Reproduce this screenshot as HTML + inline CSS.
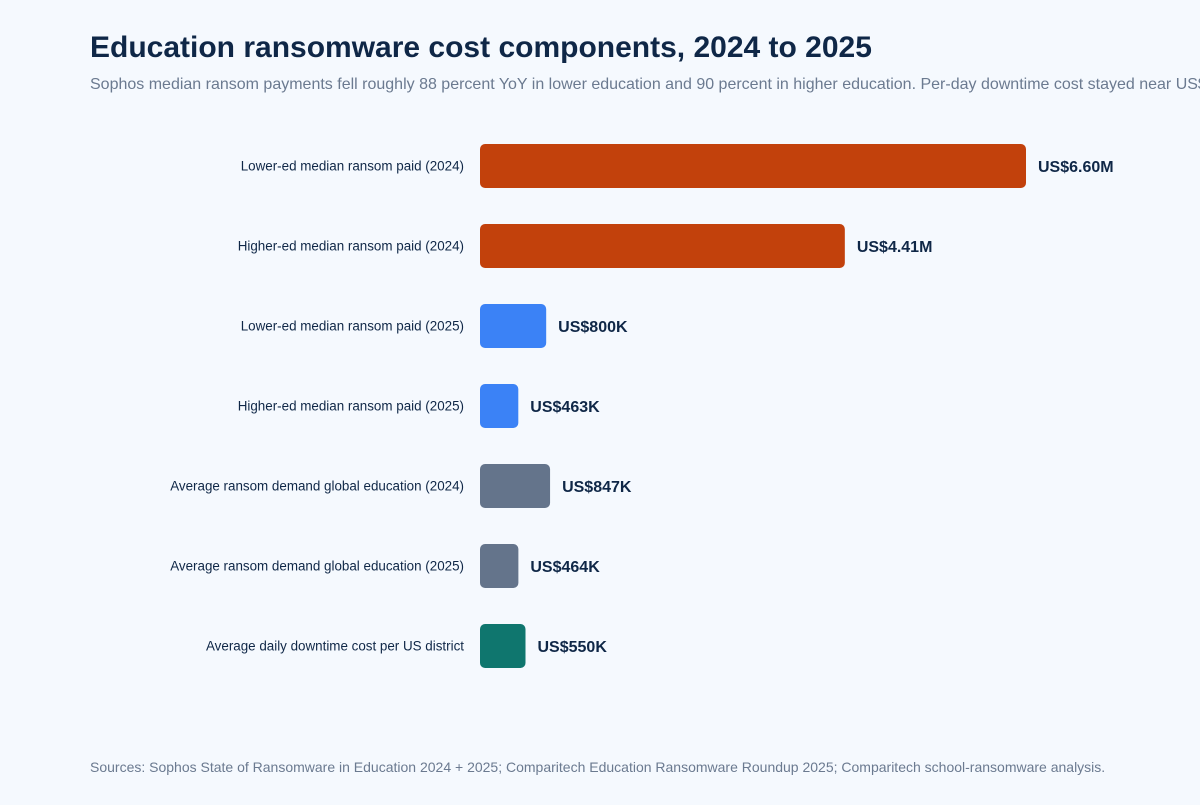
<!DOCTYPE html>
<html><head><meta charset="utf-8"><style>
body{margin:0;width:1200px;height:800px;background:#f5f9fe;overflow:hidden;font-family:"Liberation Sans",Arial,sans-serif;}
</style></head><body>
<svg width="1200" height="800" xmlns="http://www.w3.org/2000/svg">
<text x="90" y="57" font-size="30" font-weight="bold" fill="#0f2747">Education ransomware cost components, 2024 to 2025</text>
<text x="90" y="89" font-size="16" fill="#6b7a90">Sophos median ransom payments fell roughly 88 percent YoY in lower education and 90 percent in higher education. Per-day downtime cost stayed near US$550K.</text>
<g id="bars"></g>
<text x="90" y="772" font-size="14" fill="#6b7a90">Sources: Sophos State of Ransomware in Education 2024 + 2025; Comparitech Education Ransomware Roundup 2025; Comparitech school-ransomware analysis.</text>
</svg>
<script>
const categories=["Lower-ed median ransom paid (2024)","Higher-ed median ransom paid (2024)","Lower-ed median ransom paid (2025)","Higher-ed median ransom paid (2025)","Average ransom demand global education (2024)","Average ransom demand global education (2025)","Average daily downtime cost per US district"];
const values=[6.60,4.41,0.800,0.463,0.847,0.464,0.550];
const valueLabels=["US$6.60M","US$4.41M","US$800K","US$463K","US$847K","US$464K","US$550K"];
const groups=["paid2024","paid2024","paid2025","paid2025","demand","demand","downtime"];
const colors={paid2024:"#c2410c",paid2025:"#3b82f6",demand:"#64748b",downtime:"#0f766e"};
const x0=480,pxPerUnit=546/6.6,rowTop=144,rowStep=80,barH=44;
const xs=v=>v*pxPerUnit, ys=i=>rowTop+i*rowStep;
const g=document.getElementById('bars');const NS="http://www.w3.org/2000/svg";
categories.forEach((c,i)=>{
 const y=ys(i),w=xs(values[i]);
 const t=document.createElementNS(NS,'text');
 
 
 t.setAttribute('x',464);t.setAttribute('y',y+barH/2+4.5);t.setAttribute('text-anchor','end');t.setAttribute('font-size','13.4');t.setAttribute('fill','#0f2747');t.textContent=c;g.appendChild(t);
 const r=document.createElementNS(NS,'rect');
 
 
 r.setAttribute('x',x0);r.setAttribute('y',y);r.setAttribute('width',w);r.setAttribute('height',barH);r.setAttribute('rx',5);r.setAttribute('fill',colors[groups[i]]);g.appendChild(r);
 const v=document.createElementNS(NS,'text');
 
 
 v.setAttribute('x',x0+w+12);v.setAttribute('y',y+barH/2+6);v.setAttribute('font-size','16');v.setAttribute('font-weight','bold');v.setAttribute('fill','#0f2747');v.textContent=valueLabels[i];g.appendChild(v);
});
</script>
</body></html>
